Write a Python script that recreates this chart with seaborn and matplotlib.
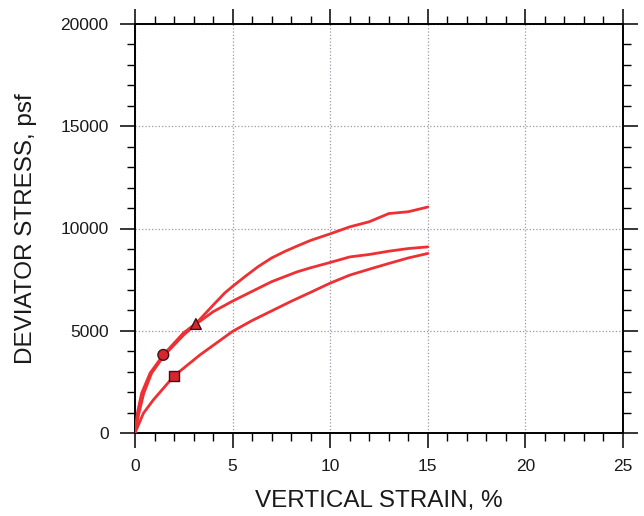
import matplotlib
matplotlib.use("Agg")
import matplotlib.pyplot as plt
import seaborn as sns
import pandas as pd
from matplotlib.ticker import MultipleLocator

# ---- data ----
strain_a = [0, 0.12, 0.34, 0.77, 1.45, 2.48, 3.15, 4.0, 4.6, 5.0, 5.65, 6.3, 7.0, 7.7, 8.3, 9.0, 10.0, 11.0, 12.0, 13.0, 14.0, 15.0]
stress_a = [0, 965, 1945, 2925, 3820, 4890, 5380, 6250, 6850, 7170, 7660, 8130, 8560, 8890, 9140, 9420, 9740, 10080, 10330, 10730, 10820, 11050]

strain_b = [0, 0.2, 0.45, 0.85, 1.5, 2.5, 3.12, 4.0, 5.0, 5.65, 7.0, 8.3, 9.0, 10.0, 11.0, 12.0, 13.0, 14.0, 15.0]
stress_b = [0, 965, 1945, 2925, 3800, 4800, 5320, 5930, 6450, 6760, 7400, 7880, 8080, 8340, 8610, 8730, 8890, 9020, 9100]

strain_c = [0, 0.43, 0.94, 2.0, 3.33, 5.0, 6.0, 7.0, 8.0, 9.0, 10.0, 11.0, 12.0, 13.0, 14.0, 15.0]
stress_c = [0, 965, 1620, 2790, 3820, 4970, 5500, 5970, 6440, 6880, 7330, 7720, 8010, 8290, 8560, 8780]

marker_strain = [1.45, 3.12, 2.0]
marker_stress = [3820, 5330, 2790]
marker_kind = ["circle", "triangle", "square"]

x_ticks = [0, 5, 10, 15, 20, 25]
y_ticks = [0, 5000, 10000, 15000, 20000]

sns.set_style("ticks")
plt.rcParams["font.family"] = ["Liberation Sans", "DejaVu Sans"]

fig = plt.figure(figsize=(6.44, 5.16), dpi=100)
ax = fig.add_axes([135 / 644, 1 - 433 / 516, 488 / 644, 409 / 516])

line_color = "#ee3034"
frames = []
for name, xs, ys in [("a", strain_a, stress_a), ("b", strain_b, stress_b), ("c", strain_c, stress_c)]:
    frames.append(pd.DataFrame({"strain": xs, "stress": ys, "test": name}))
df = pd.concat(frames, ignore_index=True)

sns.lineplot(data=df, x="strain", y="stress", units="test", estimator=None,
             sort=False, color=line_color, linewidth=2.0, ax=ax, zorder=3)

mdf = pd.DataFrame({"strain": marker_strain, "stress": marker_stress, "kind": marker_kind})
sns.scatterplot(data=mdf, x="strain", y="stress", style="kind",
                markers={"circle": "o", "triangle": "^", "square": "s"},
                color="#d9262e", edgecolor="#3a1515", linewidth=1.0, s=60,
                legend=False, ax=ax, zorder=4)

ax.set_xlim(0, 25)
ax.set_ylim(0, 20000)
ax.set_xticks(x_ticks)
ax.set_yticks(y_ticks)
ax.set_xticklabels([str(v) for v in x_ticks])
ax.set_yticklabels([str(v) for v in y_ticks])
ax.xaxis.set_minor_locator(MultipleLocator(1))
ax.yaxis.set_minor_locator(MultipleLocator(1000))

ax.grid(True, which="major", linestyle=":", color="#a095a8", linewidth=0.9)
for s in ax.spines.values():
    s.set_color("black")
    s.set_linewidth(1.4)
    s.set_visible(True)

ax.tick_params(which="both", direction="out", top=True, right=True,
               labeltop=False, labelright=False, color="black")
ax.tick_params(which="major", length=11, width=1.1, labelsize=12.5, pad=8, labelcolor="#1a1a1a")
ax.tick_params(which="minor", length=5.5, width=1.0)

ax.set_xlabel("VERTICAL STRAIN, %", fontsize=17.5, color="#1a1a1a", labelpad=11)
ax.set_ylabel("DEVIATOR STRESS, psf", fontsize=17.5, color="#1a1a1a", labelpad=17)

fig.savefig("out.png", dpi=100, facecolor="white")
